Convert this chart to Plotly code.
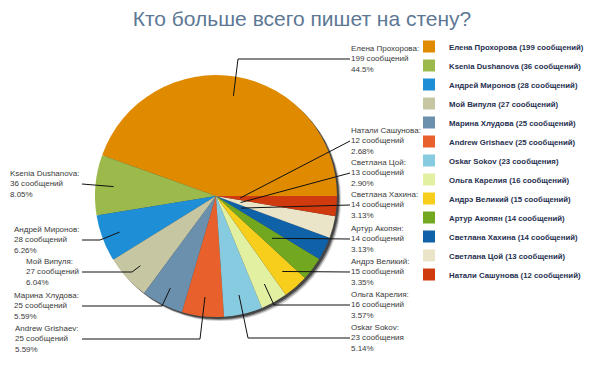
import math
import plotly.graph_objects as go

# ---- data ----
names = ["Елена Прохорова", "Ksenia Dushanova", "Андрей Миронов", "Мой Випуля",
         "Марина Хлудова", "Andrew Grishaev", "Oskar Sokov", "Ольга Карелия",
         "Андрэ Великий", "Артур Акопян", "Светлана Хахина", "Светлана Цой",
         "Натали Сашунова"]
counts = [199, 36, 28, 27, 25, 25, 23, 16, 15, 14, 14, 13, 12]
colors = ["#E08A00", "#9CBA4C", "#1E8FD6", "#C6C6A2", "#6A90AE", "#E8602C",
          "#86CBE0", "#E2F0A2", "#F8CE1C", "#72A820", "#1062A8", "#EAE4C8",
          "#CF3A0E"]
title_text = "Кто больше всего пишет на стену?"

# ---- layout constants (pixels) ----
W, H = 604, 378
CX, CY, R = 216, 196, 121
side = ["R", "L", "L", "L", "L", "L", "R", "R", "R", "R", "R", "R", "R"]
label_y = [59, 184, 240, 272, 306, 339, 338, 305, 272, 239, 205, 173, 141]
elbow = [(238, 59), None, (100, 240), (132, 272), (162, 306), (200, 339),
         (248, 338), (274, 305), None, None, None, None, None]
rfrac = [0.84, 0.85, 0.85, 0.85, 0.85, 0.84, 0.84, 0.83, 0.83, 0.58, 0.23, 0.21, 0.2]
RIGHT_X, LEFT_X = 350, 80
LABEL_FONT = dict(size=8, color="#3a3a3a", family="Liberation Sans")


def word(n):
    if n % 10 == 1 and n % 100 != 11:
        return "сообщение"
    if 2 <= n % 10 <= 4 and not 12 <= n % 100 <= 14:
        return "сообщения"
    return "сообщений"


def pct_text(p):
    if p >= 10:
        return f"{math.floor(p * 10) / 10:.1f}%"
    return f"{math.floor(p * 100) / 100:.2f}%"


def fx(x):
    return x / W


def fy(y):
    return 1 - y / H


total = sum(counts)
legend_labels = [f"{n} ({c} {word(c)})" for n, c in zip(names, counts)]

fig = go.Figure()

# shadow
for off, alpha in [(4, 0.18), (3, 0.35), (2, 0.5)]:
    fig.add_trace(go.Pie(
        values=[1], labels=["shadow"], marker=dict(colors=[f"rgba(0,0,0,{alpha})"],
                                                    line=dict(width=0)),
        domain=dict(x=[fx(CX - R + off), fx(CX + R + off)],
                    y=[fy(CY + R + off), fy(CY - R + off)]),
        textinfo="none", hoverinfo="skip", showlegend=False, sort=False))

# first slice runs counter-clockwise from 3 o'clock
rot = 90 - 360 * counts[0] / total
fig.add_trace(go.Pie(
    labels=legend_labels, values=counts, sort=False, direction="counterclockwise",
    rotation=rot, textinfo="none",
    marker=dict(colors=colors, line=dict(width=0)),
    domain=dict(x=[fx(CX - R), fx(CX + R)], y=[fy(CY + R), fy(CY - R)]),
))

shapes = []
annotations = []
cum = 0
for i, (n, c) in enumerate(zip(names, counts)):
    mid = (cum + c / 2) / total * 2 * math.pi
    cum += c
    px = CX + rfrac[i] * R * math.cos(mid)
    py = CY - rfrac[i] * R * math.sin(mid)
    pts = [(px, py)]
    if elbow[i]:
        pts.append(elbow[i])
    ex = RIGHT_X if side[i] == "R" else LEFT_X + 2
    pts.append((ex, label_y[i]))
    path = "M" + " L".join(f"{fx(x)},{fy(y)}" for x, y in pts)
    shapes.append(dict(type="path", path=path, xref="paper", yref="paper",
                       line=dict(color="#111", width=1)))
    txt = f"{n}:<br>{c} {word(c)}<br>{pct_text(c / total * 100)}"
    if side[i] == "R":
        annotations.append(dict(x=fx(RIGHT_X - 1), y=fy(label_y[i]), xref="paper", yref="paper",
                                text=txt, showarrow=False, xanchor="left", yanchor="middle",
                                align="left", font=LABEL_FONT))
    else:
        annotations.append(dict(x=fx(LEFT_X + 1), y=fy(label_y[i]), xref="paper", yref="paper",
                                text=txt, showarrow=False, xanchor="right", yanchor="middle",
                                align="left", font=LABEL_FONT))

fig.update_layout(
    width=W, height=H, margin=dict(l=0, r=0, t=0, b=0),
    paper_bgcolor="white", plot_bgcolor="white",
    title=dict(text=title_text, x=0.5, xanchor="center", y=fy(19), yanchor="middle",
               yref="container", font=dict(size=21, color="#5D7894", family="Liberation Sans")),
    legend=dict(x=fx(409), y=fy(32), xanchor="left", yanchor="top", traceorder="normal",
                font=dict(size=7.8, color="#1F3050", family="Liberation Sans", weight="bold"),
                bgcolor="rgba(0,0,0,0)", itemclick=False),
    shapes=shapes, annotations=annotations,
)

fig.write_html("out.html", config={"displayModeBar": False},
               post_script="document.body.style.margin='0';")
